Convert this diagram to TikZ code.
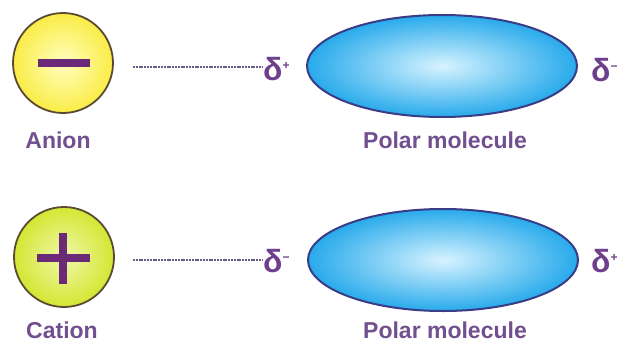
\documentclass[tikz,border=0pt]{standalone}
\usepackage{fontspec}
\setmainfont{Liberation Sans}
\usetikzlibrary{shapes.geometric}
\definecolor{txtpurple}{HTML}{72508F}
\definecolor{signpurple}{HTML}{6A2A78}
\definecolor{deltapurple}{HTML}{6E3F8C}
\definecolor{ionborder}{HTML}{5A4A32}
\definecolor{molborder}{HTML}{3A3C86}
\definecolor{dashcol}{HTML}{6A5C86}
\tikzset{
  ion/.style={circle, draw=ionborder, line width=1.8pt, minimum size=100pt, inner sep=0pt},
  anionfill/.style={inner color=yellow!25!white, outer color={rgb,255:red,250;green,236;blue,70}},
  cationfill/.style={inner color={rgb,255:red,240;green,248;blue,170}, outer color={rgb,255:red,212;green,230;blue,50}},
  mol/.style={ellipse, draw=molborder, line width=2pt, minimum width=270pt, minimum height=102pt, inner sep=0pt,
    inner color={rgb,255:red,215;green,243;blue,255}, outer color={rgb,255:red,40;green,170;blue,235}},
  lbl/.style={text=txtpurple, font=\bfseries\fontsize{23}{26}\selectfont, inner sep=0pt},
  dlt/.style={text=deltapurple, font=\bfseries\fontsize{32}{34}\selectfont, inner sep=0pt, anchor=west},
  sign/.style={signpurple, line width=8pt},
  dashline/.style={dashcol, line width=1.6pt, dash pattern=on 2pt off 0.8pt}
}
\begin{document}
\begin{tikzpicture}[x=1pt,y=-1pt]
\useasboundingbox (0,0) rectangle (624,343);
% top row
\node[ion, anionfill] (anion) at (63,63) {};
\coordinate (m1) at (38,63);
\coordinate (m2) at (90,63);
\draw[sign] (m1) -- (m2);
\node[lbl] (anionlbl) at (58,140) {Anion};
\node[dlt] (d1) at (263,69) {δ\raisebox{0.35em}{\fontsize{12}{12}\selectfont +}};
\coordinate (a1) at (133,67);
\draw[dashline] (a1) -- (a1 -| d1.west);
\node[mol] (mol1) at (442,66) {};
\node[dlt] (d2) at (591,70) {δ\raisebox{0.35em}{\fontsize{12}{12}\selectfont −}};
\node[lbl] (mol1lbl) at (445,140) {Polar molecule};
% bottom row
\node[ion, cationfill] (cation) at (64,257) {};
\coordinate (p1) at (37,258);
\coordinate (p2) at (90,258);
\coordinate (p3) at (63,233);
\coordinate (p4) at (63,284);
\draw[sign] (p1) -- (p2);
\draw[sign] (p3) -- (p4);
\node[lbl] (cationlbl) at (62,330) {Cation};
\node[dlt] (d3) at (263,261) {δ\raisebox{0.35em}{\fontsize{12}{12}\selectfont −}};
\coordinate (a2) at (133,260);
\draw[dashline] (a2) -- (a2 -| d3.west);
\node[mol] (mol2) at (443,260) {};
\node[dlt] (d4) at (591,261) {δ\raisebox{0.35em}{\fontsize{12}{12}\selectfont +}};
\node[lbl] (mol2lbl) at (445,330) {Polar molecule};
\end{tikzpicture}
\end{document}
